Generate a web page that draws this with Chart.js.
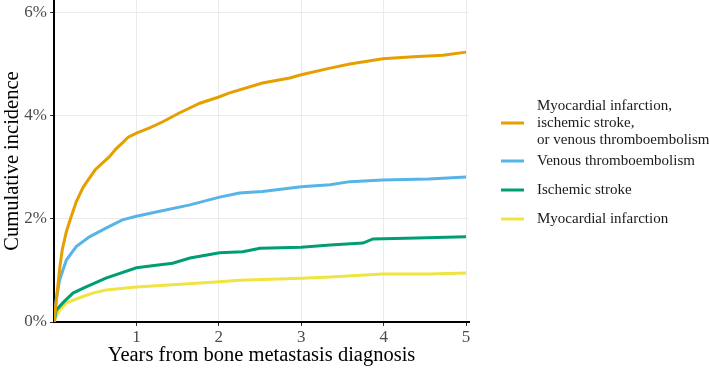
<!DOCTYPE html>
<html>
<head>
<meta charset="utf-8">
<script src="https://cdn.jsdelivr.net/npm/chart.js@4.4.1/dist/chart.umd.min.js"></script>
<style>
  body { margin: 0; background: #fff; }
  #wrap { width: 709px; height: 370px; position: relative; }
</style>
</head>
<body>
<div id="wrap"><canvas id="chart"></canvas></div>
<script>
// cumulative incidence curves (x = years, y = %)
const compositeYears = [0, 0.02, 0.04, 0.07, 0.1, 0.15, 0.2, 0.27, 0.35, 0.4, 0.5, 0.6, 0.67, 0.75, 0.83, 0.9, 1.0, 1.16, 1.32, 1.52, 1.77, 2.0, 2.13, 2.53, 2.86, 3.0, 3.35, 3.59, 3.99, 4.36, 4.72, 5.0];
const compositeVals  = [0, 0.3, 0.6, 1.05, 1.4, 1.75, 2.0, 2.33, 2.6, 2.72, 2.95, 3.1, 3.2, 3.35, 3.47, 3.58, 3.66, 3.76, 3.88, 4.05, 4.24, 4.36, 4.44, 4.63, 4.73, 4.79, 4.92, 5.0, 5.1, 5.14, 5.17, 5.23];

const vteYears = [0, 0.027, 0.067, 0.15, 0.27, 0.43, 0.63, 0.83, 1.0, 1.24, 1.65, 2.01, 2.25, 2.53, 3.0, 3.35, 3.59, 3.99, 4.55, 5.0];
const vteVals  = [0, 0.43, 0.81, 1.2, 1.46, 1.65, 1.82, 1.98, 2.05, 2.13, 2.27, 2.42, 2.5, 2.53, 2.62, 2.66, 2.72, 2.75, 2.77, 2.81];

const strokeYears = [0, 0.027, 0.107, 0.23, 0.39, 0.63, 1.0, 1.24, 1.44, 1.65, 2.01, 2.29, 2.5, 3.0, 3.35, 3.75, 3.87, 4.4, 5.0];
const strokeVals  = [0, 0.23, 0.37, 0.56, 0.68, 0.85, 1.05, 1.1, 1.14, 1.24, 1.34, 1.36, 1.43, 1.45, 1.49, 1.53, 1.61, 1.63, 1.65];

const miYears = [0, 0.027, 0.067, 0.15, 0.31, 0.47, 0.63, 1.0, 1.44, 2.01, 2.25, 3.0, 3.35, 3.99, 4.55, 5.0];
const miVals  = [0, 0.1, 0.23, 0.37, 0.47, 0.56, 0.62, 0.68, 0.72, 0.78, 0.81, 0.85, 0.87, 0.93, 0.93, 0.95];

const seriesLabels = [
    ['Myocardial infarction,', 'ischemic stroke,', 'or venous thromboembolism'],
    ['Venous thromboembolism'],
    ['Ischemic stroke'],
    ['Myocardial infarction']
];
const seriesColors = ['#E69F00', '#56B4E9', '#009E73', '#F0E442'];

const xTicks = [1, 2, 3, 4, 5];
const yTicks = [0, 2, 4, 6];

const serif = '"Liberation Serif", "DejaVu Serif", serif';

function toPoints(xs, ys) {
    return xs.map((x, i) => ({ x: x, y: ys[i] }));
}

const allSeries = [
    toPoints(compositeYears, compositeVals),
    toPoints(vteYears, vteVals),
    toPoints(strokeYears, strokeVals),
    toPoints(miYears, miVals)
];

// legend drawn by hand, right of the plot (multi-line first entry)
const sideLegend = {
    id: 'sideLegend',
    afterDraw(chart) {
        const ctx = chart.ctx;
        const rowCenters = [123, 161, 190, 219];
        const lineGap = 17;
        ctx.save();
        ctx.font = '15px ' + serif;
        ctx.textBaseline = 'middle';
        ctx.textAlign = 'left';
        seriesLabels.forEach((lines, i) => {
            const cy = rowCenters[i];
            ctx.strokeStyle = seriesColors[i];
            ctx.lineWidth = 3;
            ctx.beginPath();
            ctx.moveTo(501, cy);
            ctx.lineTo(524, cy);
            ctx.stroke();
            ctx.fillStyle = '#1a1a1a';
            const top = cy - (lines.length - 1) * lineGap / 2;
            lines.forEach((t, j) => {
                ctx.fillText(t, 537, top + j * lineGap);
            });
        });
        ctx.restore();
    }
};

const ctx = document.getElementById('chart').getContext('2d');
new Chart(ctx, {
    type: 'line',
    data: {
        datasets: allSeries.map((pts, i) => ({
            label: seriesLabels[i].join(' '),
            data: pts,
            borderColor: seriesColors[i],
            borderWidth: 3,
            pointRadius: 0,
            tension: 0,
            fill: false
        }))
    },
    options: {
        responsive: true,
        maintainAspectRatio: false,
        animation: false,
        layout: { padding: { left: 0, right: 240, top: 0, bottom: 0 } },
        plugins: {
            legend: { display: false },
            tooltip: { enabled: false }
        },
        scales: {
            x: {
                type: 'linear',
                min: 0,
                max: 5.036,
                afterBuildTicks: (scale) => { scale.ticks = xTicks.map(v => ({ value: v })); },
                afterFit: (scale) => { scale.height = 48; scale.paddingLeft = 0; scale.paddingRight = 0; },
                grid: { color: '#ebebeb', lineWidth: 1, tickColor: '#333', tickLength: 4 },
                border: { display: true, color: '#000', width: 2 },
                ticks: {
                    color: '#4d4d4d',
                    padding: 1,
                    maxRotation: 0,
                    font: { family: serif, size: 17 },
                    callback: (v) => String(v)
                },
                title: {
                    display: true,
                    text: 'Years from bone metastasis diagnosis',
                    color: '#000',
                    font: { family: serif, size: 20.5 },
                    padding: { top: 0, bottom: 2 }
                }
            },
            y: {
                min: 0,
                max: 6.24,
                afterBuildTicks: (scale) => { scale.ticks = yTicks.map(v => ({ value: v })); },
                afterFit: (scale) => { scale.width = 54; scale.paddingTop = 0; scale.paddingBottom = 0; },
                grid: { color: '#ebebeb', lineWidth: 1, tickColor: '#333', tickLength: 4 },
                border: { display: true, color: '#000', width: 2 },
                ticks: {
                    color: '#4d4d4d',
                    padding: 3,
                    font: { family: serif, size: 17 },
                    callback: (v) => v + '%'
                },
                title: {
                    display: true,
                    text: 'Cumulative incidence',
                    color: '#000',
                    font: { family: serif, size: 20.5 },
                    padding: { top: 0, bottom: 0 }
                }
            }
        }
    },
    plugins: [sideLegend]
});
</script>
</body>
</html>
